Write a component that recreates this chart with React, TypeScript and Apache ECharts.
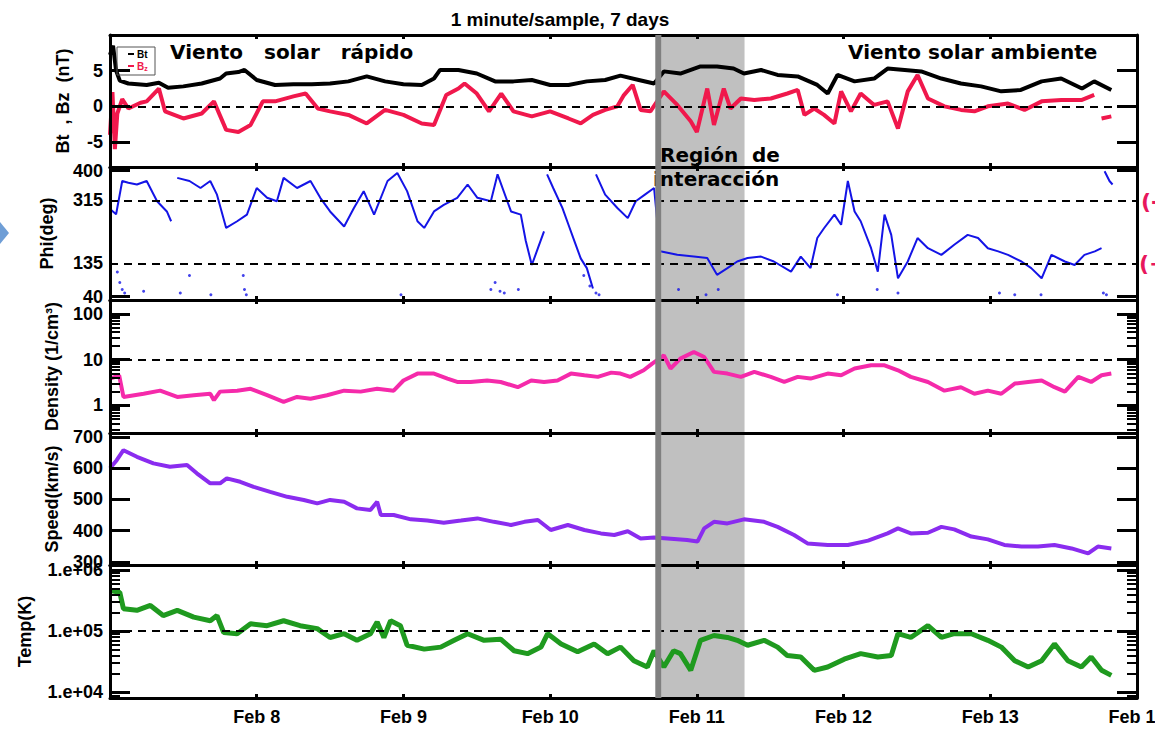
import React, { useEffect, useRef } from "react";
import * as echarts from "echarts";

// ---------- data (x = hours since Feb 7 00:00) ----------
const dayTicks = [24, 48, 72, 96, 120, 144, 168];
const dayLabels = ["Feb 8", "Feb 9", "Feb 10", "Feb 11", "Feb 12", "Feb 13", "Feb 14"];

const btData = [[0,7.2],[0.5,8.5],[1,5],[1.6,3.6],[3,3.2],[6,3.0],[8,3.3],[9.5,2.6],[12,2.8],[15,3.2],[18,3.9],[19,4.6],[21,4.8],[22,5.1],[24,3.7],[27,3.0],[30,3.1],[33,3.1],[36,3.2],[39,3.5],[42,4.2],[45,3.5],[48,3.1],[51,3.0],[53,3.9],[54,5.1],[57,5.1],[60,4.6],[63,3.5],[66,3.5],[69,3.7],[72,3.0],[75,3.0],[78,3.5],[81,3.7],[83.5,4.3],[86.5,3.7],[89,3.2],[90.6,4.9],[93.3,4.6],[96.6,5.6],[99.3,5.6],[102,5.3],[103.7,4.6],[106.5,5.1],[109.2,4.4],[112.5,4.2],[115.7,3.0],[117.4,1.8],[119,4.4],[121.8,3.5],[125,3.9],[127.2,5.3],[130,5.1],[132.7,4.9],[136,3.9],[139.2,3.2],[142.5,2.8],[145.8,2.1],[149,2.3],[152.4,3.5],[155.6,3.9],[159,2.5],[161,3.5],[163.8,2.3]];

const bzData = [[0,-4],[0.4,2],[0.8,-6],[1.2,-1],[2,1],[3,-0.3],[5,0.5],[6,0.7],[8,2.5],[9,-0.7],[12,-1.7],[15,-1.0],[17,0.7],[19,-3.3],[21,-3.6],[23,-2.6],[25,0.7],[27,0.7],[30,1.4],[32,1.8],[34,-0.3],[36,-0.7],[39,-1.2],[42,-2.4],[45,-0.5],[48,-1.2],[51,-2.4],[53,-2.6],[55,1.6],[57,2.5],[58,3.2],[60,1.8],[62,-0.7],[64,1.8],[66,-0.7],[69,-1.4],[72,-0.7],[75,-1.7],[77,-2.4],[79,-1.2],[81,-0.5],[83,0],[84,1.5],[85.5,3.0],[86.8,-0.5],[88.4,-0.7],[90.6,2.1],[92.8,0.2],[95,-2.1],[96,-3.6],[97.7,2.5],[98.8,-2.6],[100.4,2.5],[101.5,-0.3],[103.2,1.1],[105.4,0.9],[108.1,1.1],[110.8,1.8],[112.5,2.3],[113.6,-1.2],[115.2,-0.3],[116.8,-1.2],[118.5,-2.4],[119.6,2.1],[121.2,-0.7],[122.8,1.8],[125,0.2],[127.2,0.7],[128.9,-3.1],[130.5,2.1],[132.1,4.4],[133.8,1.1],[136.5,0],[139.2,-0.5],[141.4,-0.7],[143.6,0],[146.9,0.4],[149.6,-0.5],[152.4,0.7],[155.6,0.9],[159,0.9],[161,1.6],[161.8,"-"],[162.2,-1.7],[163.8,-1.4]];

const phiData = [[0,290],[1,275],[2,370],[3,365],[4.4,360],[6,370],[7.7,312],[9.3,283],[10,255],[10.5,"-"],[11,379],[13,370],[14.8,350],[16.4,370],[17.5,331],[19,236],[20.8,255],[22.4,274],[24,350],[25.7,322],[27.3,312],[28.4,379],[30.6,350],[32.8,370],[34.4,322],[36,283],[38.3,240],[39.9,293],[41.5,341],[43.2,274],[45.4,370],[47,393],[48.6,341],[50.3,255],[51.4,236],[53,283],[54.6,302],[56.8,322],[58.5,360],[60.1,322],[62.3,312],[63.4,389],[65.6,283],[67.2,274],[68,200],[69,130],[70,178],[71,226],[71.3,"-"],[71.5,389],[72.5,350],[74,293],[75,245],[76,197],[77,149],[78,121],[79,63],[79.3,"-"],[79.5,389],[81,331],[83,293],[84.7,264],[86,312],[87.5,331],[89,350],[90,169],[92.8,159],[95.5,154],[97.7,150],[99.3,102],[101,121],[102.6,140],[104.3,150],[106.5,154],[108.6,140],[111.4,111],[113,154],[114.6,121],[115.7,207],[116.8,235],[118.5,274],[119.6,245],[120.7,370],[121.8,283],[122.8,255],[124.5,178],[125.6,111],[126.7,274],[127.8,216],[128.9,92],[130.5,140],[132.1,207],[133.8,178],[136,159],[138.1,188],[140.3,216],[142,207],[143.6,178],[145.3,169],[146.9,159],[149.1,140],[150.7,121],[152.4,92],[154,159],[156.2,140],[157.8,130],[159.4,159],[161.1,169],[162.2,178],[162.5,"-"],[162.7,398],[163.5,370],[164,360]];

const phiOutliers = [[1.2,110],[1.6,80],[2,60],[2.4,50],[5.5,55],[11.5,50],[13,100],[16.5,45],[21.8,100],[22,60],[22.3,45],[47.6,45],[62.3,60],[63,80],[63.8,55],[64.5,50],[66.8,60],[77.5,100],[78.5,70],[79.5,50],[80,45],[93,60],[97.5,45],[99.5,60],[119,45],[125.5,60],[128.9,50],[145.5,50],[148,45],[152.3,45],[162.5,50],[163,45]];

const densityData = [[0,3.85],[1.5,4.5],[2.2,1.53],[5.5,1.8],[8.2,2.1],[11,1.53],[13.7,1.67],[16.4,1.8],[17,1.3],[18,2.0],[20.8,2.1],[23,2.3],[25.7,1.67],[28.4,1.2],[30.6,1.53],[32.8,1.4],[35.5,1.67],[38.3,2.1],[41,2.0],[43.7,2.3],[46.4,2.1],[48,3.5],[50.3,4.95],[53,4.95],[55.2,3.85],[56.8,3.25],[59,3.25],[61.7,3.5],[63.9,3.25],[66.7,2.5],[68.9,3.5],[71,3.25],[73.2,3.5],[75.4,4.95],[77.6,4.55],[79.8,4.2],[82,5.2],[83.5,4.95],[85.1,4.2],[87.3,5.85],[88.7,8.2],[90.6,12.4],[91.7,6.4],[93.3,10.5],[95.5,14.7],[97.2,11.4],[98.8,5.4],[101,4.95],[103.2,4.2],[105.4,5.4],[108.1,4.2],[110.3,3.25],[112.5,4.2],[114.6,3.85],[117.4,4.95],[119.6,4.55],[121.8,6.4],[124.5,7.5],[126.7,7.5],[128.9,5.85],[131,4.2],[133.8,3.25],[136.5,2.1],[139.2,2.5],[141.4,1.8],[143.6,2.1],[145.8,1.8],[148,3.0],[150.2,3.25],[152.4,3.5],[154.5,2.5],[156.2,2.0],[158.4,4.2],[160.5,3.25],[162.2,4.55],[163.8,4.95]];

const speedData = [[0,599],[1.1,625],[2.2,657],[4.4,636],[7.1,615],[9.8,604],[12.6,610],[14.2,583],[16.4,551],[18,551],[19.1,567],[21.3,556],[23.5,540],[26.2,524],[29,508],[31.7,498],[33.9,487],[36,498],[38.3,492],[40.4,471],[42.6,466],[43.7,492],[44.3,450],[46.4,450],[49.2,436],[51.9,432],[54.6,425],[57.4,432],[60.1,439],[62.8,428],[65.6,418],[67.8,428],[70,434],[72.1,402],[74.9,418],[77.6,402],[80.3,391],[82.5,386],[84.7,398],[86.8,375],[89,378],[91.2,375],[94.4,370],[96.1,365],[97.2,407],[98.8,428],[101,423],[103.7,436],[107,428],[109.2,412],[111.9,386],[114.1,359],[117.4,354],[120.7,354],[124,368],[127.2,391],[128.9,407],[131,391],[133.8,393],[136,412],[138.1,404],[140.9,381],[143.6,372],[146.3,354],[149.1,349],[151.8,349],[154.5,354],[157.3,343],[160,327],[161.6,349],[163.8,343]];

const tempData = [[0,460000],[1.6,430000],[2.2,232000],[4.4,219000],[6.6,263000],[8.7,180000],[11,219000],[13.7,170000],[16.4,148000],[17.5,180000],[18.6,95000],[20.8,91000],[23,132000],[25.7,123000],[28.4,148000],[31.1,123000],[33.9,110000],[36,79000],[38.3,91000],[40.4,71000],[42.6,91000],[43.7,141000],[44.8,79000],[45.9,148000],[47.5,123000],[48.6,59000],[51.4,51000],[54.1,55000],[56.3,71000],[58.5,91000],[61.2,71000],[63.9,74000],[66.1,48000],[68.3,43000],[70.5,55000],[71.6,91000],[73.8,62000],[76.5,46000],[79.2,62000],[81.4,43000],[83.5,55000],[85.7,33000],[87.9,26000],[89,48000],[90.6,26000],[92.2,48000],[93.3,43000],[95,23000],[96.6,71000],[98.8,85000],[101,79000],[102.6,71000],[104.3,59000],[107,71000],[109.2,55000],[110.8,40000],[113,38000],[115.2,23000],[117.4,26000],[120.1,35000],[122.8,43000],[125.6,38000],[127.8,40000],[128.9,91000],[131,79000],[133.8,123000],[136,79000],[138.1,91000],[140.9,91000],[143.6,71000],[145.8,55000],[148,33000],[150.2,26000],[152.4,33000],[154.5,62000],[156.7,33000],[158.9,26000],[160.5,38000],[162.2,23000],[163.8,19000]];

const interactionStart = 90.2;
const interactionEnd = 103.8;
const boundaryStart = 89.2;

const btTicks = [-5, 0, 5];
const phiLabels = [40, 135, 315, 400];
const phiTicks = [40, 400];
const densityLabels = [1, 10, 100];
const densityMinor = [0.3,0.4,0.5,0.6,0.7,0.8,0.9,2,3,4,5,6,7,8,9,20,30,40,50,60,70,80,90,200];
const speedTicks = [300, 400, 500, 600, 700];
const tempLabels = [1e4, 1e5, 1e6];
const tempMinor = [9e3,2e4,3e4,4e4,5e4,6e4,7e4,8e4,9e4,2e5,3e5,4e5,5e5,6e5,7e5,8e5,9e5];

// ---------- layout ----------
const tops = [35, 167, 300, 433, 565];
const heights = [132, 133, 133, 132, 133];
const LABEL_FONT = "'Liberation Sans', Arial, Helvetica, sans-serif";
const TEXT_FONT = "'DejaVu Sans', Verdana, sans-serif";
const lg = (v: number) => Math.log10(v);

export default function App() {
  const ref = useRef<HTMLDivElement>(null);
  useEffect(() => {
    if (!ref.current) return;
    const chart = echarts.init(ref.current, null, { renderer: "svg" });
    const axisFont = { fontFamily: LABEL_FONT, fontWeight: "bold" as const, fontSize: 18, color: "#000" };

    const panels = [
      { min: -8.5, max: 10, ticks: btTicks, labels: btTicks, fmt: (v: number) => String(v), name: "Bt  , Bz  (nT)", gap: 38, minor: null as number[] | null },
      { min: 30, max: 410, ticks: phiTicks, labels: phiLabels, fmt: (v: number) => String(v), name: "Phi(deg)", gap: 54, minor: null },
      { min: lg(0.25), max: lg(200), ticks: densityLabels.map(lg), labels: densityLabels.map(lg), fmt: (v: number) => String(Math.round(Math.pow(10, v))), name: "Density (1/cm³)", gap: 49, minor: densityMinor.map(lg) },
      { min: 290, max: 712, ticks: speedTicks, labels: speedTicks, fmt: (v: number) => String(v), name: "Speed(km/s)", gap: 49, minor: null },
      { min: 3.91, max: 6.08, ticks: tempLabels.map(lg), labels: tempLabels.map(lg), fmt: (v: number) => "1.e+0" + Math.round(v), name: "Temp(K)", gap: 76, minor: tempMinor.map(lg) },
    ];

    const grid = tops.map((t, i) => ({ left: 110, right: 18, top: t, height: heights[i], outerBoundsMode: "none", containLabel: false }));

    const xAxis: any[] = [];
    tops.forEach((_, i) => {
      ["bottom", "top"].forEach((pos) => {
        xAxis.push({
          type: "value", gridIndex: i, position: pos, min: 0, max: 168, z: 5,
          axisLine: { show: true, onZero: false, lineStyle: { color: "#000", width: 3 } },
          axisTick: { show: true, inside: true, length: 4, lineStyle: { color: "#000", width: 3 }, customValues: dayTicks.slice(0, 6) },
          axisLabel: pos === "bottom" && i === 4
            ? { show: true, margin: 10, ...axisFont, customValues: dayTicks, formatter: (v: number) => dayLabels[dayTicks.indexOf(Math.round(v))] ?? "" }
            : { show: false },
          splitLine: { show: false },
        });
      });
    });

    const yAxis: any[] = [];
    const leftIdx: number[] = [];
    panels.forEach((p, i) => {
      leftIdx.push(yAxis.length);
      const base = { type: "value", gridIndex: i, min: p.min, max: p.max, z: 5, splitLine: { show: false } };
      yAxis.push({
        ...base, position: "left",
        name: p.name, nameLocation: "middle", nameRotate: 90, nameGap: p.gap, nameTextStyle: { ...axisFont },
        axisLine: { show: true, onZero: false, lineStyle: { color: "#000", width: 3 } },
        axisTick: { show: true, inside: true, length: 20, lineStyle: { color: "#000", width: 3 }, customValues: p.ticks },
        axisLabel: { show: true, margin: 7, ...axisFont, customValues: p.labels, formatter: p.fmt },
      });
      yAxis.push({
        ...base, position: "right",
        axisLine: { show: true, onZero: false, lineStyle: { color: "#000", width: 3 } },
        axisTick: { show: true, inside: true, length: 20, lineStyle: { color: "#000", width: 3 }, customValues: p.ticks },
        axisLabel: { show: false },
      });
      if (p.minor) {
        ["left", "right"].forEach((pos) => {
          yAxis.push({
            ...base, position: pos,
            axisLine: { show: false, onZero: false },
            axisTick: { show: true, inside: true, length: 10, lineStyle: { color: "#000", width: 2 }, customValues: p.minor },
            axisLabel: { show: false },
          });
        });
      }
    });

    const series: any[] = [];
    const dashedAt = [[0], [315, 135], [1], [], [5]];
    tops.forEach((_, i) => {
      const ax = { xAxisIndex: 2 * i, yAxisIndex: leftIdx[i] };
      series.push({
        type: "line", ...ax, data: [], z: 1, silent: true,
        markArea: { silent: true, z: 1, itemStyle: { color: "#c0c0c0" }, data: [[{ xAxis: interactionStart }, { xAxis: interactionEnd }]] },
      });
      series.push({
        type: "line", ...ax, data: [], z: 10, silent: true,
        markArea: { silent: true, z: 20, itemStyle: { color: "#808080" }, data: [[{ xAxis: boundaryStart }, { xAxis: interactionStart }]] },
      });
      if (dashedAt[i].length) {
        series.push({
          type: "line", ...ax, data: [], z: 3, silent: true,
          markLine: { silent: true, z: 4, symbol: ["none", "none"], label: { show: false },
            lineStyle: { color: "#000", width: 2, type: [8, 6] },
            data: dashedAt[i].map((v) => ({ yAxis: v })) },
        });
      }
    });

    const lineS = (name: string, i: number, data: any[], color: string, width = 4) => ({
      name, type: "line", xAxisIndex: 2 * i, yAxisIndex: leftIdx[i], data, z: 2,
      showSymbol: false, connectNulls: false, lineStyle: { color, width }, itemStyle: { color },
    });

    series.push(lineS("Bt", 0, btData, "#000000"));
    series.push(lineS("Bz", 0, bzData, "#f0184c"));
    series.push(lineS("Phi", 1, phiData, "#1414e6", 2));
    series.push({ name: "Phi outliers", type: "scatter", xAxisIndex: 2, yAxisIndex: leftIdx[1], data: phiOutliers, symbolSize: 3, itemStyle: { color: "#1414e6" }, z: 2 });
    series.push(lineS("Density", 2, densityData.map(([h, v]) => [h, lg(v as number)]), "#f52aaa"));
    series.push(lineS("Speed", 3, speedData, "#8a2cef"));
    series.push(lineS("Temp", 4, tempData.map(([h, v]) => [h, lg(v as number)]), "#1f9a1f", 5));

    const txt = (text: string, x: number, y: number, extra: any = {}) => ({
      type: "text", x, y, z: 6,
      style: { text, fill: "#000", font: `bold 20px ${TEXT_FONT}`, textVerticalAlign: "middle", ...extra },
    });

    const graphic: any[] = [
      { type: "text", x: 560, y: 19, z: 6, style: { text: "1 minute/sample, 7 days", fill: "#000", font: `bold 19px ${LABEL_FONT}`, textAlign: "center", textVerticalAlign: "middle" } },
      txt("Viento   solar   rápido", 170, 52),
      txt("Viento solar ambiente", 848, 52),
      txt("Región  de", 660, 155),
      txt("interacción", 653, 179),
      { type: "text", x: 1141, y: 201, z: 6, style: { text: "(-)", fill: "#e8175d", font: `bold 22px ${TEXT_FONT}`, textVerticalAlign: "middle" } },
      { type: "text", x: 1139, y: 263, z: 6, style: { text: "(+)", fill: "#e8175d", font: `bold 22px ${TEXT_FONT}`, textVerticalAlign: "middle" } },
      { type: "polygon", z: 6, shape: { points: [[0, 222], [9, 233], [0, 244]] }, style: { fill: "#6f9ed6" } },
      { type: "rect", z: 6, shape: { x: 117, y: 47, width: 38, height: 28 }, style: { fill: "none", stroke: "#555", lineWidth: 1 } },
      { type: "line", z: 6, shape: { x1: 128, y1: 54, x2: 134, y2: 54 }, style: { stroke: "#000", lineWidth: 2 } },
      { type: "text", x: 137, y: 54, z: 6, style: { text: "Bt", fill: "#000", font: `bold 10px ${LABEL_FONT}`, textVerticalAlign: "middle" } },
      { type: "line", z: 6, shape: { x1: 128, y1: 66, x2: 134, y2: 66 }, style: { stroke: "#f0184c", lineWidth: 2 } },
      { type: "text", x: 137, y: 66, z: 6, style: { text: "{b|B}{s|z}", textVerticalAlign: "middle",
        rich: { b: { fill: "#f0184c", font: `bold 10px ${LABEL_FONT}` }, s: { fill: "#f0184c", font: `bold 7px ${LABEL_FONT}`, padding: [5, 0, 0, 0] } } } },
    ];

    chart.setOption({
      animation: false,
      backgroundColor: "#fff",
      grid, xAxis, yAxis, series, graphic,
    });
    return () => chart.dispose();
  }, []);
  return <div ref={ref} style={{ position: "absolute", left: 0, top: 0, width: 1155, height: 732 }} />;
}
